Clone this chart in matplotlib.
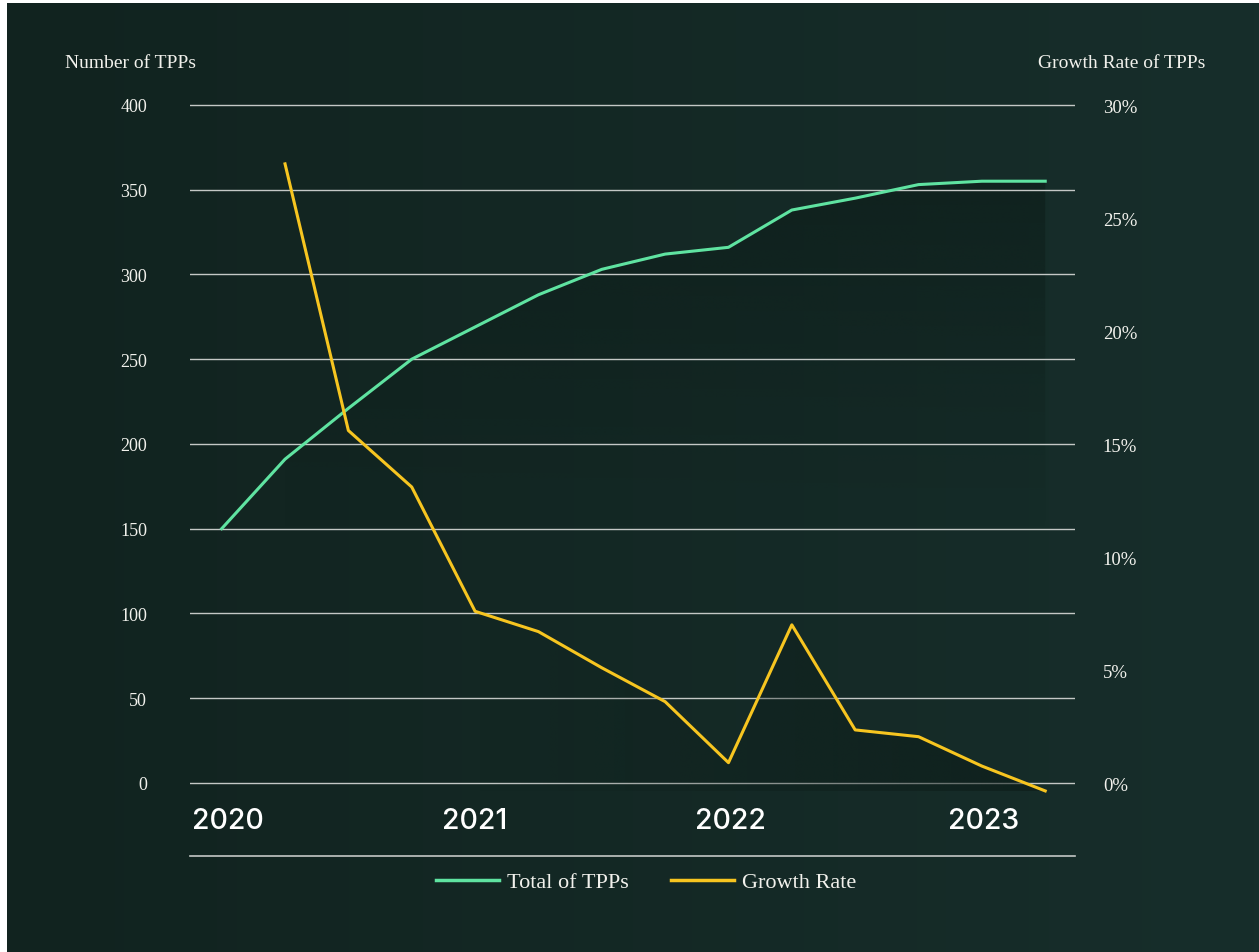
import matplotlib
matplotlib.use("Agg")
import matplotlib.pyplot as plt
import numpy as np
from matplotlib.colors import LinearSegmentedColormap
from matplotlib.lines import Line2D
from matplotlib.patches import Polygon

# quarterly data, Q1 2020 .. Q2 2023
quarters = list(range(14))
total_tpps = [150, 191, 221, 250, 269, 288, 303, 312, 316, 338, 345, 353, 355, 355]
growth_quarters = list(range(1, 14))
growth_rate = [27.4, 15.6, 13.1, 7.6, 6.7, 5.1, 3.6, 0.9, 7.0, 2.35, 2.05, 0.75, -0.35]

year_ticks = [0.1, 4, 8.03, 12.03]
year_labels = ["2020", "2021", "2022", "2023"]
left_ticks = [0, 50, 100, 150, 200, 250, 300, 350, 400]
right_ticks = [0, 5, 10, 15, 20, 25, 30]

GREEN = "#5fe3a1"
YELLOW = "#f7c520"
TEXT = "#f1f1ec"
GRID = "#c4c8c6"
SERIF = "Liberation Serif"

W, H = 1259, 953
fig = plt.figure(figsize=(W / 100, H / 100), dpi=100, facecolor="white")

# background gradient
bg = fig.add_axes([7 / W, 0, 1 - 7 / W, 1 - 4 / H])
bg.axis("off")
cmap = LinearSegmentedColormap.from_list("bg", ["#11231f", "#172e2b"])
bg.imshow(np.linspace(0, 1, 256).reshape(1, -1), aspect="auto", cmap=cmap,
          extent=[0, 1, 0, 1])
bg.set_xlim(0, 1)
bg.set_ylim(0, 1)

ax = fig.add_axes([190 / W, (H - 857) / H, (1075 - 190) / W, (857 - 100) / H])
ax.patch.set_alpha(0)
ax2 = ax.twinx()

# soft shading under the lines
shade = np.zeros((200, 2, 4))
shade[..., :3] = np.array([12, 27, 23]) / 255
shade[..., 3] = np.linspace(0.55, 0.0, 200).reshape(-1, 1)
poly = Polygon(list(zip(quarters[1:], total_tpps[1:])) + [(13, 0), (1, 0)],
               closed=True, transform=ax.transData)
im = ax.imshow(shade, extent=[1, 13, 150, 360], aspect="auto", zorder=1,
               interpolation="bilinear")
im.set_clip_path(poly)

shade2 = np.zeros((2, 200, 4))
shade2[..., :3] = np.array([12, 27, 23]) / 255
shade2[..., 3] = np.clip(np.linspace(-0.2, 0.6, 200), 0, None).reshape(1, -1)
poly2 = Polygon(list(zip(growth_quarters, growth_rate)) + [(13, -0.35), (1, -0.35)],
                closed=True, transform=ax2.transData)
im2 = ax2.imshow(shade2, extent=[1, 13, -0.35, 12], aspect="auto", zorder=1,
                 interpolation="bilinear")
im2.set_clip_path(poly2)

ax.set_xlim(-0.5, 13.47)
ax.set_ylim(-43.1, 403.5)
ax2.set_xlim(-0.5, 13.47)
ax2.set_ylim(-3.23, 30.27)

ax.plot(quarters, total_tpps, color=GREEN, lw=2.2, zorder=3)
ax2.plot(growth_quarters, growth_rate, color=YELLOW, lw=2.2, zorder=3)

ax.set_yticks(left_ticks)
ax.set_yticklabels([str(v) for v in left_ticks])
ax.grid(axis="y", color=GRID, lw=1)
ax.set_xticks([])
ax.tick_params(axis="y", length=0, pad=31, labelcolor=TEXT, labelsize=13)
for t in ax.get_yticklabels():
    t.set_fontfamily(SERIF)

ax2.set_yticks(right_ticks)
ax2.set_yticklabels([f"{v}%" for v in right_ticks])
ax2.tick_params(axis="y", length=0, pad=20, labelcolor=TEXT, labelsize=13.5)
for t in ax2.get_yticklabels():
    t.set_fontfamily(SERIF)

for a in (ax, ax2):
    for s in a.spines.values():
        s.set_visible(False)
ax.spines["bottom"].set_visible(True)
ax.spines["bottom"].set_color(GRID)
ax.spines["bottom"].set_linewidth(1.2)

for x, lab in zip(year_ticks, year_labels):
    ax.text(x, -22, lab, ha="center", va="center", color="white",
            fontsize=20.5, fontfamily="Inter", fontweight="medium")

fig.text(65 / W, 1 - 63 / H, "Number of TPPs", ha="left", va="center",
         color=TEXT, fontsize=14, fontfamily=SERIF)
fig.text(1205 / W, 1 - 63 / H, "Growth Rate of TPPs", ha="right", va="center",
         color=TEXT, fontsize=14, fontfamily=SERIF)

handles = [Line2D([], [], color=GREEN, lw=2.5), Line2D([], [], color=YELLOW, lw=2.5)]
leg = fig.legend(handles, ["Total of TPPs", "Growth Rate"], loc="center",
                 bbox_to_anchor=(646 / W, (H - 883) / H), ncol=2, frameon=False,
                 handlelength=2.85, handletextpad=0.36, columnspacing=1.9,
                 prop={"family": SERIF, "size": 16})
for t in leg.get_texts():
    t.set_color(TEXT)

fig.savefig("out.png", dpi=100, facecolor=fig.get_facecolor())
